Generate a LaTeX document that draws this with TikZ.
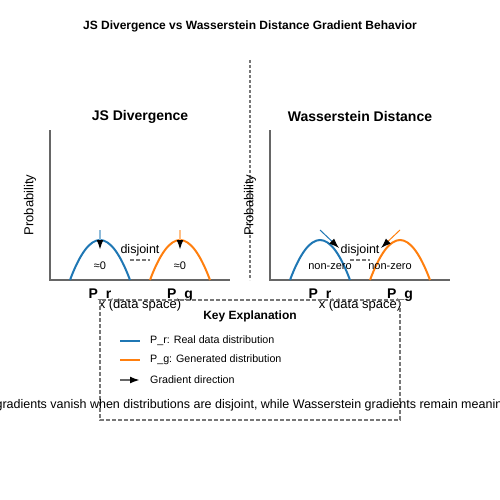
\documentclass[tikz,border=0pt]{standalone}
\usepackage{fontspec}
\setmainfont{Liberation Sans}
\usetikzlibrary{arrows.meta}
\definecolor{pblue}{HTML}{1F77B4}
\definecolor{porange}{HTML}{FF7F0E}
\definecolor{axgray}{HTML}{666666}
\definecolor{dgray}{HTML}{777777}
\begin{document}
\begin{tikzpicture}[x=1pt,y=-1pt,
  axis/.style={axgray,line width=2pt},
  dline/.style={dgray,line width=1.5pt,dash pattern=on 4pt off 2pt},
  curveR/.style={pblue,line width=2pt},
  curveG/.style={porange,line width=2pt},
  fs/.style={inner sep=0pt,font=\fontsize{#1}{#1}\selectfont},
  fb/.style={inner sep=0pt,font=\fontsize{#1}{#1}\selectfont\bfseries},
  gradthick/.style={line width=2pt,-{Latex[length=10pt,width=7pt,black]}},
  gradthin/.style={line width=1pt,-{Latex[length=10pt,width=7pt,black]}},
]
\useasboundingbox (0,0) rectangle (500,500);

\node[fb=12] (title) at (250,26) {JS Divergence vs Wasserstein Distance Gradient Behavior};
\draw[dgray,line width=1.5pt,dash pattern=on 3pt off 2pt] (250,60) -- (250,280);

% ---------- left panel ----------
\node[fb=14] (jsT) at (140,116.5) {JS Divergence};
\draw[axis] (50,130) -- (50,280) -- (230,280);
\node[fs=13,rotate=90] (jsY) at (30,205) {Probability};
\draw[curveR] (70,280) .. controls (90,226.67) and (110,226.67) .. (130,280);
\draw[curveG] (150,280) .. controls (170,226.67) and (190,226.67) .. (210,280);
\coordinate (jsRa) at (100,230); \coordinate (jsRb) at (100,250);
\coordinate (jsGa) at (180,230); \coordinate (jsGb) at (180,250);
\draw[gradthick,pblue!50] (jsRa) -- (jsRb);
\draw[gradthick,porange!50] (jsGa) -- (jsGb);
\node[fs=11] (jsZ1) at (100,266) {≈0};
\node[fs=11] (jsZ2) at (180,266) {≈0};
\node[fs=12.5] (jsD) at (140,250) {disjoint};
\draw[dline] (130,260) -- (150,260);
\node[fb=14] (jsPr) at (100,295) {P\_r};
\node[fb=14] (jsPg) at (180,295) {P\_g};
\node[fs=13] (jsX) at (140,305) {x (data space)};

% ---------- right panel ----------
\node[fb=14] (wT) at (360,116.5) {Wasserstein Distance};
\draw[axis] (270,130) -- (270,280) -- (450,280);
\node[fs=13,rotate=90] (wY) at (250,205) {Probability};
\draw[curveR] (290,280) .. controls (310,226.67) and (330,226.67) .. (350,280);
\draw[curveG] (370,280) .. controls (390,226.67) and (410,226.67) .. (430,280);
\coordinate (wRa) at (320,230); \coordinate (wRb) at (339,248);
\coordinate (wGa) at (400,230); \coordinate (wGb) at (381,248);
\draw[gradthin,pblue] (wRa) -- (wRb);
\draw[gradthin,porange] (wGa) -- (wGb);
\node[fs=11] (wN1) at (330,267) {non-zero};
\node[fs=11] (wN2) at (390,267) {non-zero};
\node[fs=12.5] (wD) at (360,250) {disjoint};
\draw[dline] (350,260) -- (370,260);
\node[fb=14] (wPr) at (320,295) {P\_r};
\node[fb=14] (wPg) at (400,295) {P\_g};
\node[fs=13] (wX) at (360,305) {x (data space)};

% ---------- key ----------
\draw[dline] (100,300) rectangle (400,420);
\node[fb=12] (keyT) at (250,316) {Key Explanation};
\coordinate (l1a) at (120,341); \coordinate (l1b) at (140,341);
\coordinate (l2a) at (120,360); \coordinate (l2b) at (140,360);
\coordinate (l3a) at (120,380); \coordinate (l3b) at (140,380);
\draw[pblue,line width=2pt] (l1a) -- (l1b);
\draw[porange,line width=2pt] (l2a) -- (l2b);
\draw[axgray,line width=2pt,-{Latex[length=10pt,width=7pt,black]}] (l3a) -- (l3b);
\node[fs=10.7,anchor=west] (k1) at (150,341) {P\_r: Real data distribution};
\node[fs=10.7,anchor=west] (k2) at (150,360) {P\_g: Generated distribution};
\node[fs=10.7,anchor=west] (k3) at (150,380) {Gradient direction};

\node[fs=12.5] (note) at (250,405) {JS gradients vanish when distributions are disjoint, while Wasserstein gradients remain meaningful};
\end{tikzpicture}
\end{document}
